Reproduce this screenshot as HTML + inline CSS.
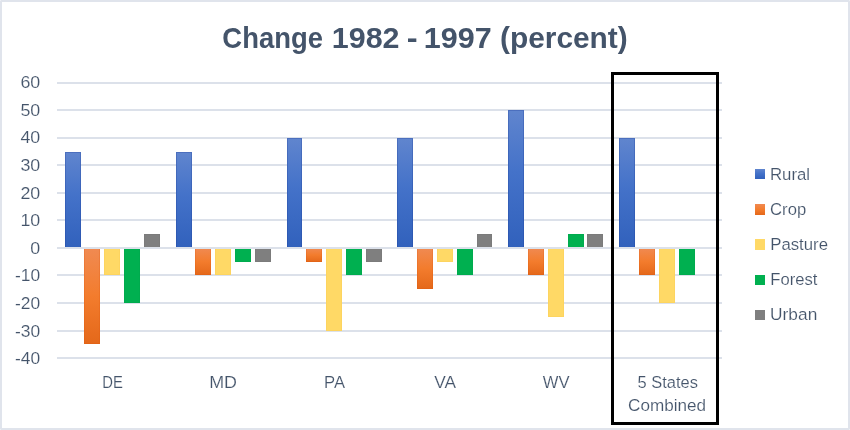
<!DOCTYPE html>
<html><head><meta charset="utf-8"><title>Change 1982 - 1997 (percent)</title>
<style>html,body{margin:0;padding:0;background:#fff;}svg{display:block;}text{white-space:pre;}</style></head>
<body>
<svg xmlns="http://www.w3.org/2000/svg" width="850" height="430" viewBox="0 0 850 430" font-family="'Liberation Sans', Arial, sans-serif">
<defs>
<linearGradient id="gb" x1="0" y1="0" x2="0" y2="1"><stop offset="0" stop-color="#6085ce"/><stop offset="0.45" stop-color="#4472c9"/><stop offset="1" stop-color="#3161bc"/></linearGradient>
<linearGradient id="go" x1="0" y1="0" x2="0" y2="1"><stop offset="0" stop-color="#f08a52"/><stop offset="0.5" stop-color="#f37c2d"/><stop offset="1" stop-color="#e4681a"/></linearGradient>
</defs>
<rect x="0" y="0" width="850" height="430" fill="#e0e4ec"/>
<rect x="2" y="2" width="846" height="426" fill="#ffffff"/>
<rect x="0" y="0" width="1" height="1" fill="#eceff4"/>
<rect x="849" y="0" width="1" height="1" fill="#eceff4"/>
<rect x="0" y="429" width="1" height="1" fill="#eceff4"/>
<rect x="849" y="429" width="1" height="1" fill="#eceff4"/>
<rect x="57" y="82" width="665" height="2" fill="#dce1ea"/>
<rect x="57" y="109" width="665" height="2" fill="#dce1ea"/>
<rect x="57" y="137" width="665" height="2" fill="#dce1ea"/>
<rect x="57" y="164" width="665" height="2" fill="#dce1ea"/>
<rect x="57" y="192" width="665" height="2" fill="#dce1ea"/>
<rect x="57" y="219" width="665" height="2" fill="#dce1ea"/>
<rect x="57" y="274" width="665" height="2" fill="#dce1ea"/>
<rect x="57" y="302" width="665" height="2" fill="#dce1ea"/>
<rect x="57" y="330" width="665" height="2" fill="#dce1ea"/>
<rect x="57" y="357" width="665" height="2" fill="#dce1ea"/>
<rect x="65" y="152" width="16" height="96" fill="url(#gb)"/>
<rect x="65.5" y="152.5" width="15" height="95" fill="none" stroke="#1d3f99" stroke-opacity="0.3"/>
<rect x="84" y="248" width="16" height="96" fill="url(#go)"/>
<rect x="84.5" y="248.5" width="15" height="95" fill="none" stroke="#d9500a" stroke-opacity="0.22"/>
<rect x="104" y="248" width="16" height="27" fill="#ffd966"/>
<rect x="104.5" y="248.5" width="15" height="26" fill="none" stroke="#f2b930" stroke-opacity="0.12"/>
<rect x="124" y="248" width="16" height="55" fill="#00b050"/>
<rect x="124.5" y="248.5" width="15" height="54" fill="none" stroke="#009440" stroke-opacity="0.15"/>
<rect x="144" y="234" width="16" height="14" fill="#7f7f7f"/>
<rect x="144.5" y="234.5" width="15" height="13" fill="none" stroke="#686868" stroke-opacity="0.15"/>
<rect x="176" y="152" width="16" height="96" fill="url(#gb)"/>
<rect x="176.5" y="152.5" width="15" height="95" fill="none" stroke="#1d3f99" stroke-opacity="0.3"/>
<rect x="195" y="248" width="16" height="27" fill="url(#go)"/>
<rect x="195.5" y="248.5" width="15" height="26" fill="none" stroke="#d9500a" stroke-opacity="0.22"/>
<rect x="215" y="248" width="16" height="27" fill="#ffd966"/>
<rect x="215.5" y="248.5" width="15" height="26" fill="none" stroke="#f2b930" stroke-opacity="0.12"/>
<rect x="235" y="248" width="16" height="14" fill="#00b050"/>
<rect x="235.5" y="248.5" width="15" height="13" fill="none" stroke="#009440" stroke-opacity="0.15"/>
<rect x="255" y="248" width="16" height="14" fill="#7f7f7f"/>
<rect x="255.5" y="248.5" width="15" height="13" fill="none" stroke="#686868" stroke-opacity="0.15"/>
<rect x="287" y="138" width="15" height="110" fill="url(#gb)"/>
<rect x="287.5" y="138.5" width="14" height="109" fill="none" stroke="#1d3f99" stroke-opacity="0.3"/>
<rect x="306" y="248" width="16" height="14" fill="url(#go)"/>
<rect x="306.5" y="248.5" width="15" height="13" fill="none" stroke="#d9500a" stroke-opacity="0.22"/>
<rect x="326" y="248" width="16" height="83" fill="#ffd966"/>
<rect x="326.5" y="248.5" width="15" height="82" fill="none" stroke="#f2b930" stroke-opacity="0.12"/>
<rect x="346" y="248" width="16" height="27" fill="#00b050"/>
<rect x="346.5" y="248.5" width="15" height="26" fill="none" stroke="#009440" stroke-opacity="0.15"/>
<rect x="366" y="248" width="16" height="14" fill="#7f7f7f"/>
<rect x="366.5" y="248.5" width="15" height="13" fill="none" stroke="#686868" stroke-opacity="0.15"/>
<rect x="397" y="138" width="16" height="110" fill="url(#gb)"/>
<rect x="397.5" y="138.5" width="15" height="109" fill="none" stroke="#1d3f99" stroke-opacity="0.3"/>
<rect x="417" y="248" width="16" height="41" fill="url(#go)"/>
<rect x="417.5" y="248.5" width="15" height="40" fill="none" stroke="#d9500a" stroke-opacity="0.22"/>
<rect x="437" y="248" width="16" height="14" fill="#ffd966"/>
<rect x="437.5" y="248.5" width="15" height="13" fill="none" stroke="#f2b930" stroke-opacity="0.12"/>
<rect x="457" y="248" width="16" height="27" fill="#00b050"/>
<rect x="457.5" y="248.5" width="15" height="26" fill="none" stroke="#009440" stroke-opacity="0.15"/>
<rect x="477" y="234" width="15" height="14" fill="#7f7f7f"/>
<rect x="477.5" y="234.5" width="14" height="13" fill="none" stroke="#686868" stroke-opacity="0.15"/>
<rect x="508" y="110" width="16" height="138" fill="url(#gb)"/>
<rect x="508.5" y="110.5" width="15" height="137" fill="none" stroke="#1d3f99" stroke-opacity="0.3"/>
<rect x="528" y="248" width="16" height="27" fill="url(#go)"/>
<rect x="528.5" y="248.5" width="15" height="26" fill="none" stroke="#d9500a" stroke-opacity="0.22"/>
<rect x="548" y="248" width="16" height="69" fill="#ffd966"/>
<rect x="548.5" y="248.5" width="15" height="68" fill="none" stroke="#f2b930" stroke-opacity="0.12"/>
<rect x="568" y="234" width="16" height="14" fill="#00b050"/>
<rect x="568.5" y="234.5" width="15" height="13" fill="none" stroke="#009440" stroke-opacity="0.15"/>
<rect x="587" y="234" width="16" height="14" fill="#7f7f7f"/>
<rect x="587.5" y="234.5" width="15" height="13" fill="none" stroke="#686868" stroke-opacity="0.15"/>
<rect x="619" y="138" width="16" height="110" fill="url(#gb)"/>
<rect x="619.5" y="138.5" width="15" height="109" fill="none" stroke="#1d3f99" stroke-opacity="0.3"/>
<rect x="639" y="248" width="16" height="27" fill="url(#go)"/>
<rect x="639.5" y="248.5" width="15" height="26" fill="none" stroke="#d9500a" stroke-opacity="0.22"/>
<rect x="659" y="248" width="16" height="55" fill="#ffd966"/>
<rect x="659.5" y="248.5" width="15" height="54" fill="none" stroke="#f2b930" stroke-opacity="0.12"/>
<rect x="679" y="248" width="16" height="27" fill="#00b050"/>
<rect x="679.5" y="248.5" width="15" height="26" fill="none" stroke="#009440" stroke-opacity="0.15"/>
<rect x="57" y="247" width="665" height="2" fill="#dce1ea"/>
<rect x="612.5" y="73.5" width="105" height="350" fill="none" stroke="#000" stroke-width="3"/>
<rect x="755" y="169" width="10" height="10" fill="url(#gb)"/>
<rect x="755" y="204" width="10" height="11" fill="url(#go)"/>
<rect x="755" y="239" width="10" height="11" fill="#ffd966"/>
<rect x="755" y="275" width="10" height="10" fill="#00b050"/>
<rect x="755" y="310" width="10" height="10" fill="#7f7f7f"/>
<text transform="translate(222.36 47.90) scale(0.9142 1)" font-size="30" font-weight="bold" fill="#44546a">Change</text>
<text transform="translate(331.80 47.90) scale(1.0159 1)" font-size="30" font-weight="bold" fill="#44546a">1982</text>
<text transform="translate(406.81 47.90) scale(1.0885 1)" font-size="30" font-weight="bold" fill="#44546a">-</text>
<text transform="translate(423.79 47.90) scale(1.0179 1)" font-size="30" font-weight="bold" fill="#44546a">1997</text>
<text transform="translate(500.01 47.90) scale(0.9954 1)" font-size="30" font-weight="bold" fill="#44546a">(percent)</text>
<text transform="translate(20.39 88.20) scale(1.0500 1)" font-size="17" fill="#44546a" stroke="#fff" stroke-width="0.15">60</text>
<text transform="translate(20.39 115.81) scale(1.0500 1)" font-size="17" fill="#44546a" stroke="#fff" stroke-width="0.15">50</text>
<text transform="translate(20.39 143.42) scale(1.0500 1)" font-size="17" fill="#44546a" stroke="#fff" stroke-width="0.15">40</text>
<text transform="translate(20.39 171.03) scale(1.0500 1)" font-size="17" fill="#44546a" stroke="#fff" stroke-width="0.15">30</text>
<text transform="translate(20.39 198.64) scale(1.0500 1)" font-size="17" fill="#44546a" stroke="#fff" stroke-width="0.15">20</text>
<text transform="translate(20.39 226.25) scale(1.0500 1)" font-size="17" fill="#44546a" stroke="#fff" stroke-width="0.15">10</text>
<text transform="translate(30.30 253.86) scale(1.0500 1)" font-size="17" fill="#44546a" stroke="#fff" stroke-width="0.15">0</text>
<text transform="translate(15.01 281.47) scale(1.0250 1)" font-size="17" fill="#44546a" stroke="#fff" stroke-width="0.15">-10</text>
<text transform="translate(15.01 309.08) scale(1.0250 1)" font-size="17" fill="#44546a" stroke="#fff" stroke-width="0.15">-20</text>
<text transform="translate(15.01 336.69) scale(1.0250 1)" font-size="17" fill="#44546a" stroke="#fff" stroke-width="0.15">-30</text>
<text transform="translate(15.01 364.30) scale(1.0250 1)" font-size="17" fill="#44546a" stroke="#fff" stroke-width="0.15">-40</text>
<text transform="translate(102.36 388.00) scale(0.9006 1)" font-size="16.5" fill="#44546a" stroke="#fff" stroke-width="0.15">DE</text>
<text transform="translate(209.21 388.00) scale(1.0851 1)" font-size="16.5" fill="#44546a" stroke="#fff" stroke-width="0.15">MD</text>
<text transform="translate(324.12 388.00) scale(1.0065 1)" font-size="16.5" fill="#44546a" stroke="#fff" stroke-width="0.15">PA</text>
<text transform="translate(434.13 388.00) scale(1.0489 1)" font-size="16.5" fill="#44546a" stroke="#fff" stroke-width="0.15">VA</text>
<text transform="translate(542.84 388.00) scale(1.0061 1)" font-size="16.5" fill="#44546a" stroke="#fff" stroke-width="0.15">WV</text>
<text transform="translate(637.51 387.80) scale(0.9975 1)" font-size="16.5" fill="#44546a" stroke="#fff" stroke-width="0.15">5 States</text>
<text transform="translate(628.06 410.90) scale(1.0385 1)" font-size="16.5" fill="#44546a" stroke="#fff" stroke-width="0.15">Combined</text>
<text transform="translate(770.00 179.70) scale(1.0179 1)" font-size="16.5" fill="#44546a" stroke="#fff" stroke-width="0.15">Rural</text>
<text transform="translate(770.08 214.80) scale(1.0102 1)" font-size="16.5" fill="#44546a" stroke="#fff" stroke-width="0.15">Crop</text>
<text transform="translate(770.20 249.80) scale(1.0174 1)" font-size="16.5" fill="#44546a" stroke="#fff" stroke-width="0.15">Pasture</text>
<text transform="translate(770.31 284.80) scale(1.0077 1)" font-size="16.5" fill="#44546a" stroke="#fff" stroke-width="0.15">Forest</text>
<text transform="translate(770.09 319.80) scale(1.0510 1)" font-size="16.5" fill="#44546a" stroke="#fff" stroke-width="0.15">Urban</text>
</svg>
</body></html>
